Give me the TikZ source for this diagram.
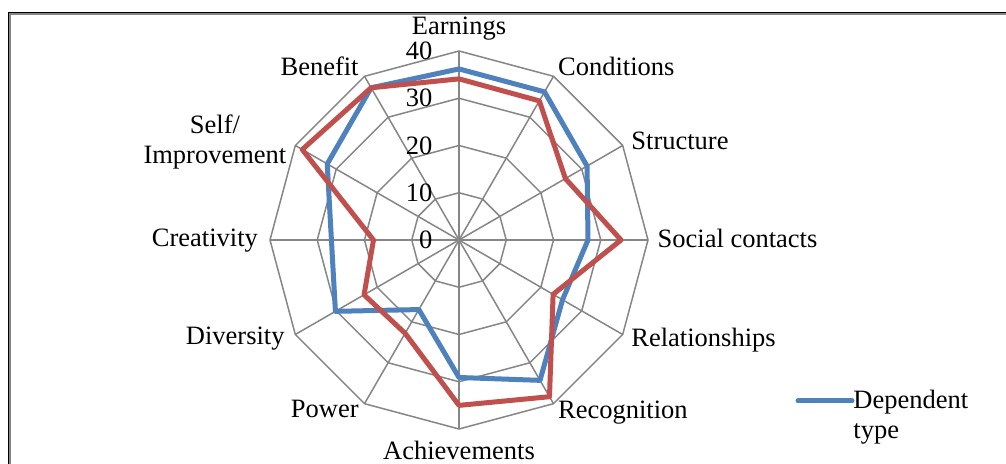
\documentclass[tikz,border=0pt]{standalone}
\usepackage{fontspec}
\setmainfont{Liberation Serif}
\definecolor{seriesblue}{RGB}{79,129,189}
\definecolor{seriesred}{RGB}{192,80,77}
\definecolor{gridgray}{RGB}{134,134,134}
\tikzset{
  gridline/.style = {draw = gridgray, line width = 0.75pt},
  blueline/.style = {draw = seriesblue, line width = 2.5pt, line join = round},
  redline/.style = {draw = seriesred, line width = 2.5pt, line join = round},
  axislabel/.style = {inner sep = 0pt, font = \fontsize{13.25}{15}\selectfont},
}
\begin{document}
\begin{tikzpicture}[x = 0.5pt, y = 0.5pt]
    \useasboundingbox[fill = white] (-459,-224) rectangle (547,240);
    % frame of the chart area
    \draw[gridgray, line width = 0.6pt] (-449,-224) -- (-449,226) -- (547,226);
    \draw[black, line width = 0.6pt] (-450.6,-224) -- (-450.6,227.6) -- (547,227.6);
    % radar grid and the two series, one unit = one point of the scale
    \begin{scope}[x = 2.3625pt, y = 2.3625pt]
    \coordinate (centre) at (0,0);
    \foreach \r in {10,20,30,40}
        \draw[gridline] (0:\r) \foreach \a in {30,60,...,330} { -- (\a:\r) } -- cycle;
    \foreach \a in {0,30,...,330}
        \draw[gridline] (centre) -- (\a:40);
    \draw[blueline] (90:36.2) -- (60:36.2) -- (30:31.3) -- (0:27.3) -- (-30:25.3) -- (-60:34.3)
        -- (-90:29.1) -- (-120:17) -- (-150:30.2) -- (180:27) -- (150:32.2) -- (120:37.2) -- cycle;
    \draw[redline] (90:34.1) -- (60:34) -- (30:26) -- (0:34.3) -- (-30:23) -- (-60:38.3)
        -- (-90:35) -- (-120:22.8) -- (-150:23.2) -- (180:18.1) -- (150:38.3) -- (120:37.2) -- cycle;
    \end{scope}
    % scale
    \node[axislabel, anchor = east] (tick0) at (-26.3,0) {0};
    \node[axislabel, anchor = east] (tick10) at (-26.3,47.25) {10};
    \node[axislabel, anchor = east] (tick20) at (-26.3,94.5) {20};
    \node[axislabel, anchor = east] (tick30) at (-26.3,141.75) {30};
    \node[axislabel, anchor = east] (tick40) at (-26.3,189) {40};
    % category labels
    \node[axislabel, anchor = base] (earnings) at (0,205) {Earnings};
    \node[axislabel, anchor = base west] (conditions) at (98.7,164) {Conditions};
    \node[axislabel, anchor = base west] (structure) at (172,90.7) {Structure};
    \node[axislabel, anchor = base west] (social) at (198.3,-7.3) {Social contacts};
    \node[axislabel, anchor = base west] (relationships) at (172,-107) {Relationships};
    \node[axislabel, anchor = base west] (recognition) at (98.7,-178.3) {Recognition};
    \node[axislabel, anchor = base] (achievements) at (0,-220) {Achievements};
    \node[axislabel, anchor = base east] (power) at (-100,-178) {Power};
    \node[axislabel, anchor = base east] (diversity) at (-174,-105) {Diversity};
    \node[axislabel, anchor = base east] (creativity) at (-200.7,-6.7) {Creativity};
    \node[axislabel, anchor = base east] (improvement) at (-172.3,76.7) {Improvement};
    \node[axislabel, anchor = base] (self) at (improvement.base |- 0,106.7) {Self/};
    \node[axislabel, anchor = base east] (benefit) at (-100,164) {Benefit};
    % legend
    \coordinate (keystart) at (339,-161);
    \coordinate (keyend) at (393,-161);
    \draw[blueline, line cap = round] (keystart) -- (keyend);
    \node[axislabel, anchor = base west] (dependent) at (394,-168.3) {Dependent};
    \node[axislabel, anchor = base west] (type) at (394,-198.3) {type};
\end{tikzpicture}
\end{document}
